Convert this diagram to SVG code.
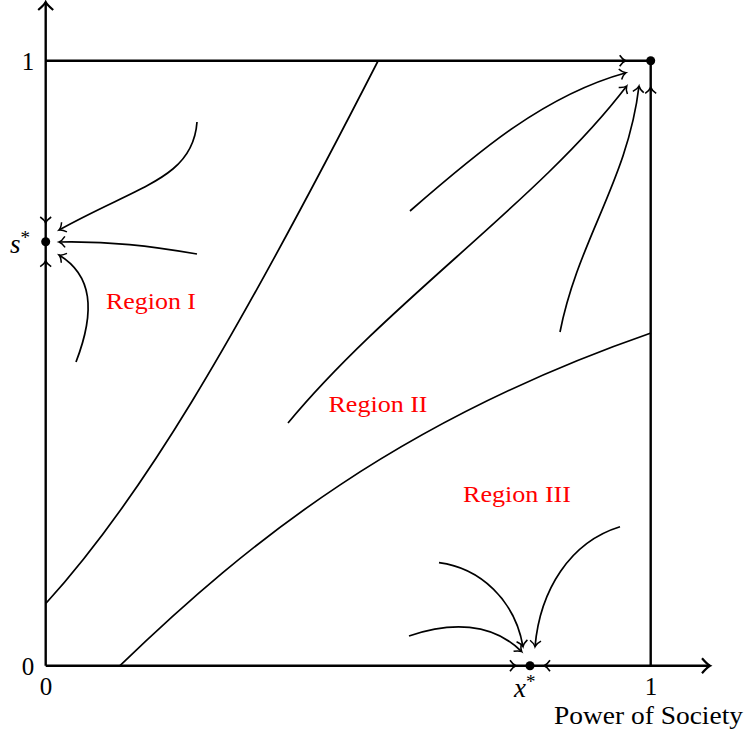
<svg xmlns="http://www.w3.org/2000/svg" xmlns:xlink="http://www.w3.org/1999/xlink" width="748" height="736" viewBox="0 0 748 736">
<style>
.axis{stroke:#000;stroke-width:2.4;fill:none}
.curve{stroke:#000;stroke-width:1.7;fill:none;marker-end:url(#to)}
.sep{stroke:#000;stroke-width:1.7;fill:none}
.lbl{font-family:"Liberation Serif",serif;font-size:25px;fill:#000;text-anchor:middle}
.math{font-family:"Liberation Serif",serif;font-style:italic;font-size:27px;fill:#000}
.star{font-family:"Liberation Serif",serif;font-style:normal;font-size:19px}
.region{font-family:"Liberation Serif",serif;font-size:24px;fill:#ff0000;text-anchor:middle}
</style>
<defs>
<marker id="to" viewBox="-10 -10 20 20" refX="0" refY="0" markerWidth="20" markerHeight="20" markerUnits="userSpaceOnUse" orient="auto">
<path d="M-6,-5.5 C-4,-2.5 -1.5,-0.5 0,0 C-1.5,0.5 -4,2.5 -6,5.5" stroke="#000" stroke-width="1.5" fill="none"/>
</marker>
<marker id="axend" viewBox="-12 -12 24 24" refX="0" refY="0" markerWidth="24" markerHeight="24" markerUnits="userSpaceOnUse" orient="auto">
<path d="M-8,-7.5 C-5,-4 -2,-1 0,0 C-2,1 -5,4 -8,7.5" stroke="#000" stroke-width="2.2" fill="none"/>
</marker>
<path id="tip" d="M-6,-5.5 C-4,-2.5 -1.5,-0.5 0,0 C-1.5,0.5 -4,2.5 -6,5.5" stroke="#000" stroke-width="1.6" fill="none"/>
</defs>

<g id="axes">
<path class="axis" d="M45.7,665.7 L45.7,2" marker-end="url(#axend)"/>
<path class="axis" d="M45.7,665.7 L710,665.7" marker-end="url(#axend)"/>
<path class="axis" d="M45.7,60.7 L650.7,60.7 L650.7,665.7"/>
</g>

<g id="separatrices">
<path class="sep" d="M46,603.3 C140,500 230,350 378,61"/>
<path class="sep" d="M120,665.7 C250,540 400,420 651,333"/>
</g>

<g id="connectors">
<path class="curve" d="M197,122 C193,178 140,185 59,230"/>
<path class="curve" d="M197,254 C150,246 110,241 59,242"/>
<path class="curve" d="M76,362 C96,310 92,275 59,255"/>
<path class="curve" d="M410,211 C480,150 545,95 626,72.7"/>
<path class="curve" d="M288,423 C390,300 540,200 626.7,86"/>
<path class="curve" d="M560,332 C578,240 628,180 639,86"/>
<path class="curve" d="M409,636 C450,622 492,622 521.7,651.7"/>
<path class="curve" d="M439,562.7 C480,568 515,600 523,646.7"/>
<path class="curve" d="M620,526.7 C570,542 540,590 535,646.7"/>
<use xlink:href="#tip" href="#tip" transform="translate(45.7,223) rotate(90)"/>
<use xlink:href="#tip" href="#tip" transform="translate(45.7,260.7) rotate(-90)"/>
<use xlink:href="#tip" href="#tip" transform="translate(516,665.7)"/>
<use xlink:href="#tip" href="#tip" transform="translate(544,665.7) rotate(180)"/>
<use xlink:href="#tip" href="#tip" transform="translate(625.7,60.7)"/>
<use xlink:href="#tip" href="#tip" transform="translate(650.7,87.3) rotate(-90)"/>
</g>

<g id="point-s">
<circle cx="45.7" cy="241.7" r="4.5" fill="#000"/>
<text class="math" x="10" y="253">s<tspan class="star" dy="-9">*</tspan></text>
</g>
<g id="point-x">
<circle cx="530" cy="665.7" r="4.5" fill="#000"/>
<text class="math" x="514" y="697">x<tspan class="star" dy="-9">*</tspan></text>
</g>
<g id="point-top">
<circle cx="650.7" cy="60.7" r="4.5" fill="#000"/>
</g>

<g id="labels">
<text class="lbl" x="28" y="70">1</text>
<text class="lbl" x="28" y="675">0</text>
<text class="lbl" x="46" y="695">0</text>
<text class="lbl" x="651" y="695">1</text>
<text class="lbl" x="648.5" y="724" textLength="189" lengthAdjust="spacingAndGlyphs">Power of Society</text>
</g>

<g id="region-1"><text class="region" x="151" y="309" textLength="90" lengthAdjust="spacingAndGlyphs">Region I</text></g>
<g id="region-2"><text class="region" x="378" y="412" textLength="99" lengthAdjust="spacingAndGlyphs">Region II</text></g>
<g id="region-3"><text class="region" x="517" y="502" textLength="108" lengthAdjust="spacingAndGlyphs">Region III</text></g>
</svg>
